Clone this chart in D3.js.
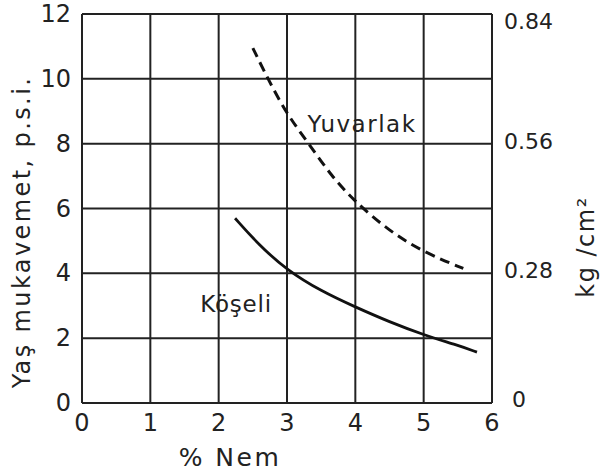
<!DOCTYPE html>
<html>
<head>
<meta charset="utf-8">
<script src="https://cdn.jsdelivr.net/npm/d3@7"></script>
<style>
  body { margin: 0; background: #fff; }
  text { font-family: "DejaVu Sans", sans-serif; fill: #222; }
</style>
</head>
<body>
<svg width="604" height="474"></svg>
<script>
// values
var xTicks = [0, 1, 2, 3, 4, 5, 6];
var yTicks = [0, 2, 4, 6, 8, 10, 12];
var rightTicks = [0, 4, 8, 12];
var rightLabels = ['0', '0.28', '0.56', '0.84'];

var yuvarlakX = [2.5, 2.72, 3.0, 3.32, 3.65, 4.0, 4.5, 5.0, 5.58];
var yuvarlakY = [10.95, 10.0, 8.9, 8.0, 7.0, 6.2, 5.3, 4.65, 4.15];

var koseliX = [2.24, 2.6, 3.0, 3.5, 4.0, 4.5, 5.0, 5.5, 5.78];
var koseliY = [5.7, 4.85, 4.1, 3.45, 2.96, 2.5, 2.1, 1.78, 1.57];

var svg = d3.select('svg');
var padding = { t: 14, r: 112, b: 71, l: 82 };
var w = +svg.attr('width') - padding.l - padding.r;
var h = +svg.attr('height') - padding.t - padding.b;

var g = svg.append('g')
    .attr('transform', 'translate(' + [padding.l, padding.t] + ')');

var x = d3.scaleLinear().domain([0, 6]).range([0, w]);
var y = d3.scaleLinear().domain([0, 12]).range([h, 0]);

// grid
g.selectAll('.vgrid').data(xTicks).enter().append('line')
    .attr('x1', function(d) { return x(d); })
    .attr('x2', function(d) { return x(d); })
    .attr('y1', 0).attr('y2', h)
    .attr('stroke', '#222').attr('stroke-width', 2);

g.selectAll('.hgrid').data(yTicks).enter().append('line')
    .attr('y1', function(d) { return y(d); })
    .attr('y2', function(d) { return y(d); })
    .attr('x1', 0).attr('x2', w)
    .attr('stroke', '#222').attr('stroke-width', 2);

// tick labels
g.selectAll('.xl').data(xTicks).enter().append('text')
    .attr('x', function(d) { return x(d); })
    .attr('y', h + 28)
    .attr('text-anchor', 'middle')
    .attr('font-size', 24)
    .text(function(d) { return d; });

g.selectAll('.yl').data(yTicks).enter().append('text')
    .attr('x', -11)
    .attr('y', function(d) { return y(d) + 8; })
    .attr('text-anchor', 'end')
    .attr('font-size', 24)
    .text(function(d) { return d; });

g.selectAll('.rl').data(rightTicks).enter().append('text')
    .attr('x', function(d, i) { return i === 0 ? w + 20 : w + 12; })
    .attr('y', function(d, i) { return y(d) + (i === 0 ? 4 : i === 3 ? 15 : 5); })
    .attr('font-size', 22)
    .text(function(d, i) { return rightLabels[i]; });

// curves
var line = d3.line()
    .x(function(d) { return x(d[0]); })
    .y(function(d) { return y(d[1]); })
    .curve(d3.curveBasis);

g.append('path')
    .datum(d3.zip(yuvarlakX, yuvarlakY))
    .attr('d', line)
    .attr('fill', 'none')
    .attr('stroke', '#111')
    .attr('stroke-width', 3)
    .attr('stroke-dasharray', '10,6');

g.append('path')
    .datum(d3.zip(koseliX, koseliY))
    .attr('d', line)
    .attr('fill', 'none')
    .attr('stroke', '#111')
    .attr('stroke-width', 2.8);

// curve labels
g.append('text')
    .attr('x', x(3.3)).attr('y', y(8.35))
    .attr('font-size', 23)
    .attr('letter-spacing', 1.5)
    .text('Yuvarlak');

g.append('text')
    .attr('x', x(1.73)).attr('y', y(2.8))
    .attr('font-size', 23)
    .attr('letter-spacing', 0.8)
    .text('Köşeli');

// axis titles
svg.append('text')
    .attr('transform', 'translate(30,232) rotate(-90)')
    .attr('text-anchor', 'middle')
    .attr('font-size', 24)
    .attr('letter-spacing', 2.4)
    .text('Yaş  mukavemet, p.s.i.');

svg.append('text')
    .attr('x', 230).attr('y', 466)
    .attr('text-anchor', 'middle')
    .attr('font-size', 25)
    .attr('letter-spacing', 2.5)
    .text('%  Nem');

svg.append('text')
    .attr('transform', 'translate(594,247) rotate(-90)')
    .attr('text-anchor', 'middle')
    .attr('font-size', 24)
    .attr('letter-spacing', 1.5)
    .text('kg /cm²');
</script>
</body>
</html>
